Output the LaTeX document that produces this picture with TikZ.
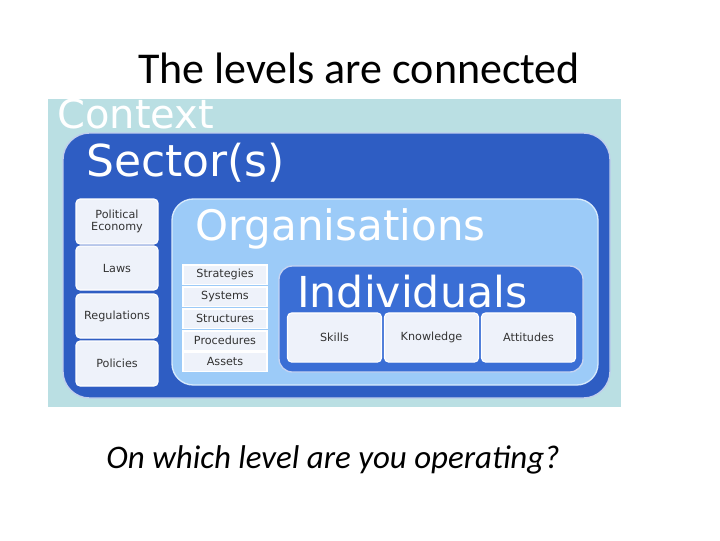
\documentclass[tikz,border=0pt]{standalone}
\usepackage{fontspec}
\setmainfont{Carlito}
\newfontfamily\vfont{DejaVu Sans}
\definecolor{ctx}{HTML}{BADFE3}
\definecolor{sec}{HTML}{2E5DC3}
\definecolor{org}{HTML}{9CCBF8}
\definecolor{ind}{HTML}{3A6ED5}
\definecolor{item}{HTML}{EEF2FA}
\begin{document}
\begin{tikzpicture}[x=0.75pt,y=-0.75pt,
  ibox/.style={fill=item,draw=white,line width=0.8pt,rounded corners=3pt,font=\vfont\fontsize{8.4}{9.5}\selectfont,text=black!80,align=center,inner sep=0pt},
  ttl/.style={anchor=west,text=white,inner sep=0pt}]
\useasboundingbox (0,0) rectangle (720,540);
\fill[white] (0,0) rectangle (720,540);
\node (head) at (359,68) {\fontsize{33}{36}\selectfont The levels are connected};
\fill[ctx] (48,99) rectangle (621,407);
\node[ttl,font=\vfont\fontsize{30}{32}\selectfont] (tctx) at (57,114) {Context};
\draw[fill=sec,draw=white!70!sec,rounded corners=20pt,line width=1pt] (63,133) rectangle (610,398);
\node[ttl,font=\vfont\fontsize{33}{35}\selectfont] (tsec) at (86,163) {Sector(s)};
\foreach \y/\h/\t [count=\i] in {199/244/{Political\\Economy},246/290/Laws,294/338/Regulations,341/386/Policies}
  \node[ibox,minimum width=61.5pt,minimum height={(\h-\y)*0.75pt}] (s\i) at (117,{(\y+\h)/2}) {\t};
\draw[fill=org,draw=white!60!org,rounded corners=16pt,line width=1pt] (172,199) rectangle (598,385);
\node[ttl,font=\vfont\fontsize{31.5}{33}\selectfont] (torg) at (195,229) {Organisations};
\foreach \y/\t [count=\i] in {265/Strategies,287/Systems,309/Structures,331/Procedures,352/Assets}
  \node[ibox,rounded corners=0pt,minimum width=63pt,minimum height=14.3pt] (o\i) at (225,{\y+9.5}) {\t};
\draw[fill=ind,draw=white!70!ind,rounded corners=10pt,line width=1pt] (279,266) rectangle (583,372);
\node[ttl,font=\vfont\fontsize{32}{34}\selectfont] (tind) at (297,292) {Individuals};
\foreach \x/\t [count=\i] in {287/Skills,384/Knowledge,481/Attitudes}
  \node[ibox,minimum width=70.5pt,minimum height=36.8pt] (i\i) at ({\x+47.5},337.5) {\t};
\node (q) at (333,460) {\fontsize{24.7}{28}\selectfont\itshape On which level are you operating?};
\end{tikzpicture}
\end{document}
